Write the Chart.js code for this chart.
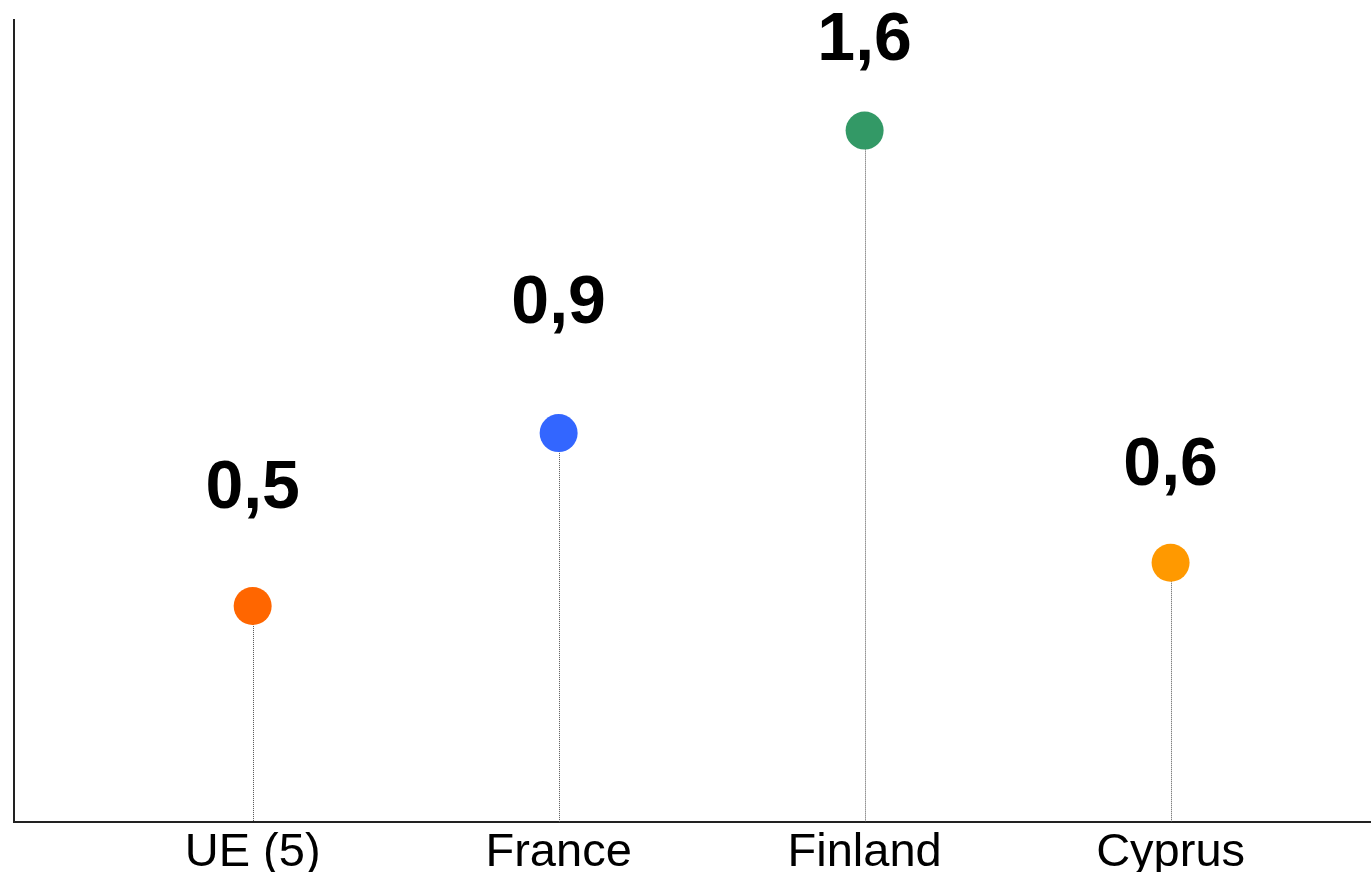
<!DOCTYPE html>
<html>
<head>
<meta charset="utf-8">
<script src="https://cdn.jsdelivr.net/npm/chart.js@4/dist/chart.umd.min.js"></script>
<style>
  html, body { margin: 0; padding: 0; background: #fff; overflow: hidden; }
  #wrap { width: 1371px; height: 872px; position: relative; }
  canvas { display: block; }
</style>
</head>
<body>
<div id="wrap"><canvas id="c"></canvas></div>
<script>
// Countries and their values
const categories = ['UE (5)', 'France', 'Finland', 'Cyprus'];
const values = [0.5, 0.9, 1.6, 0.6];
const valueLabels = ['0,5', '0,9', '1,6', '0,6'];
const pointColors = ['#FF6600', '#3366FF', '#339966', '#FF9900'];

// Distance in px from each dot centre up to the baseline of its value label
const labelLift = [98, 110, 71, 78];

const FONT = '"Liberation Sans", Arial, Helvetica, sans-serif';

// Dotted stems from each dot down to zero
const stemPlugin = {
  id: 'stems',
  beforeDatasetsDraw(chart) {
    const { ctx, scales: { x, y } } = chart;
    const y0 = y.getPixelForValue(0);
    ctx.save();
    ctx.strokeStyle = '#555';
    ctx.lineWidth = 1;
    ctx.setLineDash([1, 1]);
    values.forEach((v, i) => {
      const px = Math.round(x.getPixelForValue(i)) + 0.5;
      ctx.beginPath();
      ctx.moveTo(px, y.getPixelForValue(v));
      ctx.lineTo(px, y0);
      ctx.stroke();
    });
    ctx.restore();
  }
};

// Bold value labels above the dots
const valueLabelPlugin = {
  id: 'valueLabels',
  afterDatasetsDraw(chart) {
    const { ctx, scales: { x, y } } = chart;
    ctx.save();
    ctx.fillStyle = '#000';
    ctx.font = 'bold 68px ' + FONT;
    ctx.textAlign = 'center';
    ctx.textBaseline = 'alphabetic';
    values.forEach((v, i) => {
      ctx.fillText(valueLabels[i], x.getPixelForValue(i), y.getPixelForValue(v) - labelLift[i]);
    });
    ctx.restore();
  }
};

new Chart(document.getElementById('c'), {
  type: 'scatter',
  data: {
    datasets: [{
      data: values.map((v, i) => ({ x: i, y: v })),
      backgroundColor: pointColors,
      borderWidth: 0,
      pointRadius: 19,
      pointHoverRadius: 19,
      clip: false
    }]
  },
  options: {
    responsive: true,
    maintainAspectRatio: false,
    animation: false,
    events: [],
    layout: { autoPadding: false, padding: { left: 14, top: 20, right: 0, bottom: 0 } },
    plugins: { legend: { display: false }, tooltip: { enabled: false } },
    scales: {
      x: {
        type: 'linear',
        min: -0.78,
        max: 3.655,
        afterBuildTicks(scale) {
          scale.ticks = categories.map((_, i) => ({ value: i }));
        },
        afterFit(scale) {
          scale.height = 50;
          scale.paddingLeft = 0;
          scale.paddingRight = 0;
        },
        grid: { display: false, drawTicks: false },
        border: { display: true, color: '#222', width: 2 },
        ticks: {
          autoSkip: false,
          maxRotation: 0,
          padding: 3,
          color: '#000',
          font: { family: FONT, size: 47 },
          callback: (v) => categories[v] ?? ''
        }
      },
      y: {
        min: 0,
        max: 1.856,
        afterFit(scale) {
          scale.width = 0;
          scale.paddingTop = 0;
          scale.paddingBottom = 0;
        },
        grid: { display: false, drawTicks: false },
        border: { display: true, color: '#222', width: 2 },
        ticks: { display: false }
      }
    }
  },
  plugins: [stemPlugin, valueLabelPlugin]
});
</script>
</body>
</html>
